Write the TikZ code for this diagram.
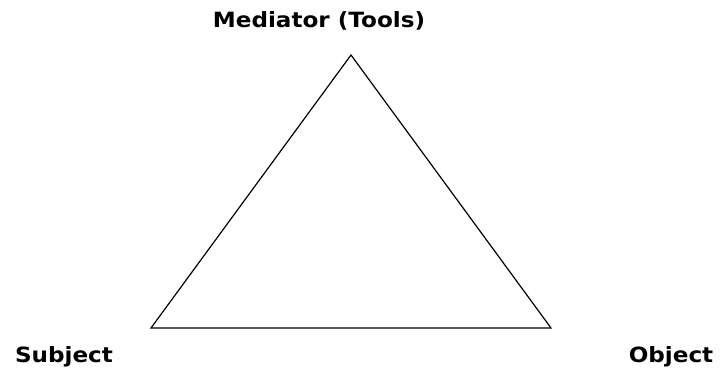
\documentclass[tikz,border=0pt]{standalone}
\usepackage{fontspec}
\setmainfont{DejaVu Sans}
\newfontfamily\lblfont[FakeStretch=1.1]{DejaVu Sans}
\begin{document}
\begin{tikzpicture}[x=1pt,y=-1pt,
  lbl/.style={font=\lblfont\bfseries\fontsize{21}{25}\selectfont, inner sep=0pt, anchor=base},
  tri/.style={draw=black, line width=1.2pt, line join=miter}]
\useasboundingbox (0,0) rectangle (723,374);
\coordinate (top) at (351,55);
\coordinate (left) at (151,328);
\coordinate (right) at (551,328);
\draw[tri] (top) -- (left) -- (right) -- cycle;
\node[lbl] (med) at (319,28) {Mediator (Tools)};
\node[lbl] (subj) at (64,362) {Subject};
\node[lbl] (obj) at (671,362) {Object};
\end{tikzpicture}
\end{document}
